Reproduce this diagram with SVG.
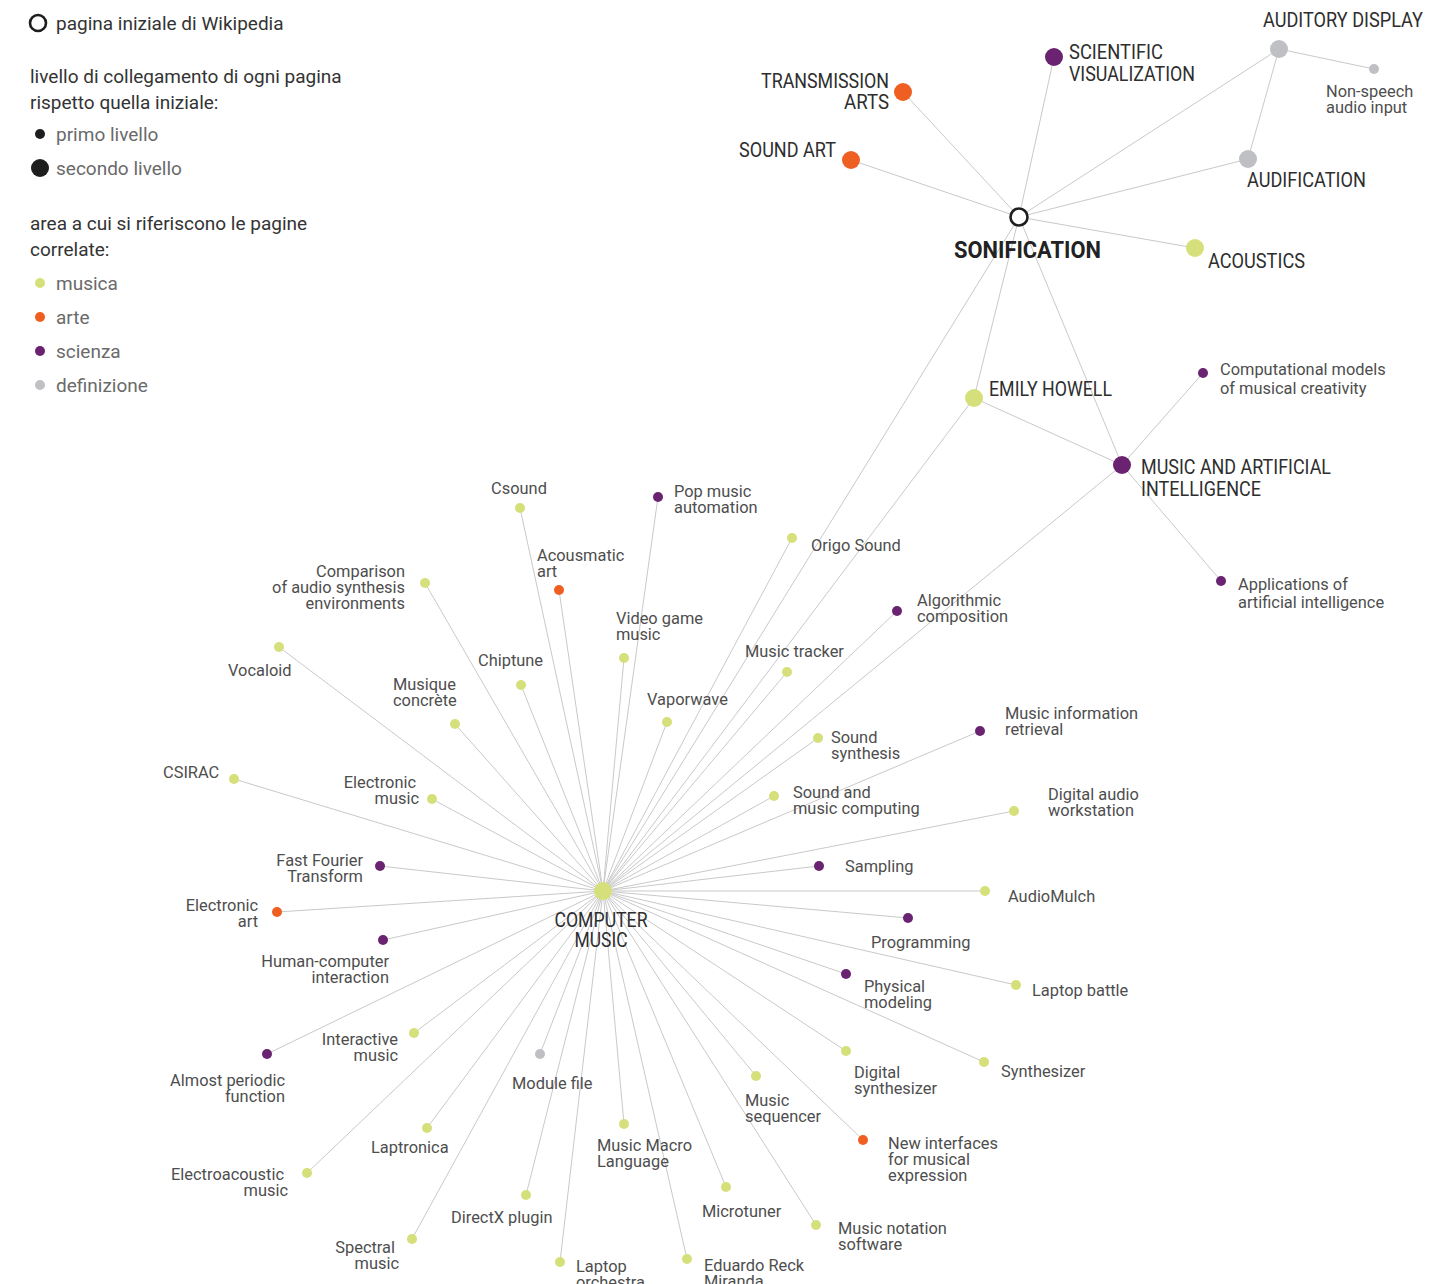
<svg xmlns="http://www.w3.org/2000/svg" width="1452" height="1284" viewBox="0 0 1452 1284">
<style>
  .bg{fill:#ffffff}
  .ln{stroke:#c9c9c9;stroke-width:1;fill:none}
  .m{fill:#d5e07a}
  .a{fill:#ef5f22}
  .s{fill:#6a2370}
  .d{fill:#bfc0c4}
  .k{fill:#1e1e1e}
  .start{fill:#ffffff;stroke:#1e1e1e;stroke-width:2.6}
  .lab{font-family:Roboto,"Liberation Sans",sans-serif;font-size:16.4px;fill:#4e4e4e}
  .cap{font-family:Roboto,"Liberation Sans",sans-serif;font-size:20px;fill:#2e2e2e}
  .main{font-family:Roboto,"Liberation Sans",sans-serif;font-size:23px;font-weight:bold;fill:#222}
  .lg{font-family:Roboto,"Liberation Sans",sans-serif;font-size:19px;fill:#333}
  .lg2{font-family:Roboto,"Liberation Sans",sans-serif;font-size:19px;fill:#6a6a6a}
  .r{text-anchor:end}
</style>
<rect class="bg" width="1452" height="1284"/>

<!-- legend -->
<g id="legend">
  <circle class="start" cx="38" cy="23" r="8"/>
  <text class="lg" x="56" y="30">pagina iniziale di Wikipedia</text>
  <text class="lg" x="30" y="83">livello di collegamento di ogni pagina</text>
  <text class="lg" x="30" y="109">rispetto quella iniziale:</text>
  <circle class="k" cx="40" cy="134" r="5"/>
  <text class="lg2" x="56" y="141">primo livello</text>
  <circle class="k" cx="40" cy="168" r="9"/>
  <text class="lg2" x="56" y="175">secondo livello</text>
  <text class="lg" x="30" y="230">area a cui si riferiscono le pagine</text>
  <text class="lg" x="30" y="256">correlate:</text>
  <circle class="m" cx="40" cy="283" r="5"/>
  <text class="lg2" x="56" y="290">musica</text>
  <circle class="a" cx="40" cy="317" r="5"/>
  <text class="lg2" x="56" y="324">arte</text>
  <circle class="s" cx="40" cy="351" r="5"/>
  <text class="lg2" x="56" y="358">scienza</text>
  <circle class="d" cx="40" cy="385" r="5"/>
  <text class="lg2" x="56" y="392">definizione</text>
</g>

<!-- connectors -->
<g id="connectors" class="ln">
  <!-- from SONIFICATION -->
  <line x1="1019" y1="217" x2="851" y2="160"/>
  <line x1="1019" y1="217" x2="903" y2="92"/>
  <line x1="1019" y1="217" x2="1054" y2="57"/>
  <line x1="1019" y1="217" x2="1279" y2="49"/>
  <line x1="1019" y1="217" x2="1248" y2="159"/>
  <line x1="1019" y1="217" x2="1195" y2="248"/>
  <line x1="1019" y1="217" x2="603" y2="891"/>
  <line x1="1019" y1="217" x2="974" y2="398"/>
  <line x1="1019" y1="217" x2="1122" y2="465"/>
  <!-- among first-level pages -->
  <line x1="1279" y1="49" x2="1374" y2="69"/>
  <line x1="1279" y1="49" x2="1248" y2="159"/>
  <line x1="974" y1="398" x2="1122" y2="465"/>
  <line x1="974" y1="398" x2="603" y2="891"/>
  <line x1="1122" y1="465" x2="1203" y2="373"/>
  <line x1="1122" y1="465" x2="1221" y2="581"/>
  <line x1="1122" y1="465" x2="603" y2="891"/>
  <!-- from COMPUTER MUSIC -->
  <g id="cm-links">
    <line x1="603" y1="891" x2="520" y2="508"/>
    <line x1="603" y1="891" x2="658" y2="497"/>
    <line x1="603" y1="891" x2="559" y2="590"/>
    <line x1="603" y1="891" x2="425" y2="583"/>
    <line x1="603" y1="891" x2="624" y2="658"/>
    <line x1="603" y1="891" x2="792" y2="538"/>
    <line x1="603" y1="891" x2="897" y2="611"/>
    <line x1="603" y1="891" x2="279" y2="647"/>
    <line x1="603" y1="891" x2="521" y2="685"/>
    <line x1="603" y1="891" x2="787" y2="672"/>
    <line x1="603" y1="891" x2="455" y2="724"/>
    <line x1="603" y1="891" x2="667" y2="722"/>
    <line x1="603" y1="891" x2="818" y2="738"/>
    <line x1="603" y1="891" x2="980" y2="731"/>
    <line x1="603" y1="891" x2="234" y2="779"/>
    <line x1="603" y1="891" x2="432" y2="799"/>
    <line x1="603" y1="891" x2="774" y2="796"/>
    <line x1="603" y1="891" x2="1014" y2="811"/>
    <line x1="603" y1="891" x2="380" y2="866"/>
    <line x1="603" y1="891" x2="819" y2="866"/>
    <line x1="603" y1="891" x2="985" y2="891"/>
    <line x1="603" y1="891" x2="277" y2="912"/>
    <line x1="603" y1="891" x2="908" y2="918"/>
    <line x1="603" y1="891" x2="383" y2="940"/>
    <line x1="603" y1="891" x2="846" y2="974"/>
    <line x1="603" y1="891" x2="1016" y2="985"/>
    <line x1="603" y1="891" x2="414" y2="1033"/>
    <line x1="603" y1="891" x2="984" y2="1062"/>
    <line x1="603" y1="891" x2="846" y2="1051"/>
    <line x1="603" y1="891" x2="267" y2="1054"/>
    <line x1="603" y1="891" x2="540" y2="1054"/>
    <line x1="603" y1="891" x2="756" y2="1076"/>
    <line x1="603" y1="891" x2="863" y2="1140"/>
    <line x1="603" y1="891" x2="427" y2="1128"/>
    <line x1="603" y1="891" x2="624" y2="1124"/>
    <line x1="603" y1="891" x2="307" y2="1173"/>
    <line x1="603" y1="891" x2="726" y2="1187"/>
    <line x1="603" y1="891" x2="526" y2="1195"/>
    <line x1="603" y1="891" x2="816" y2="1225"/>
    <line x1="603" y1="891" x2="412" y2="1239"/>
    <line x1="603" y1="891" x2="560" y2="1262"/>
    <line x1="603" y1="891" x2="687" y2="1259"/>
  </g>
</g>

<!-- first-level pages -->
<g id="sonification">
  <circle class="start" cx="1019" cy="217" r="8.5"/>
  <text class="main" x="954" y="258" textLength="147" lengthAdjust="spacingAndGlyphs">SONIFICATION</text>
</g>
<g id="sound-art">
  <circle class="a" cx="851" cy="160" r="9"/>
  <text class="cap r" x="836" y="157" textLength="97" lengthAdjust="spacingAndGlyphs">SOUND ART</text>
</g>
<g id="transmission-arts">
  <circle class="a" cx="903" cy="92" r="9"/>
  <text class="cap r" x="889" y="88" textLength="128" lengthAdjust="spacingAndGlyphs">TRANSMISSION</text>
  <text class="cap r" x="889" y="109" textLength="45" lengthAdjust="spacingAndGlyphs">ARTS</text>
</g>
<g id="scientific-visualization">
  <circle class="s" cx="1054" cy="57" r="9"/>
  <text class="cap" x="1069" y="59" textLength="94" lengthAdjust="spacingAndGlyphs">SCIENTIFIC</text>
  <text class="cap" x="1069" y="81" textLength="126" lengthAdjust="spacingAndGlyphs">VISUALIZATION</text>
</g>
<g id="auditory-display">
  <circle class="d" cx="1279" cy="49" r="9"/>
  <text class="cap" x="1263" y="27" textLength="160" lengthAdjust="spacingAndGlyphs">AUDITORY DISPLAY</text>
</g>
<g id="non-speech-audio-input">
  <circle class="d" cx="1374" cy="69" r="5"/>
  <text class="lab" x="1326" y="97">Non-speech</text>
  <text class="lab" x="1326" y="113">audio input</text>
</g>
<g id="audification">
  <circle class="d" cx="1248" cy="159" r="9"/>
  <text class="cap" x="1247" y="187" textLength="119" lengthAdjust="spacingAndGlyphs">AUDIFICATION</text>
</g>
<g id="acoustics">
  <circle class="m" cx="1195" cy="248" r="9"/>
  <text class="cap" x="1208" y="268" textLength="97" lengthAdjust="spacingAndGlyphs">ACOUSTICS</text>
</g>
<g id="emily-howell">
  <circle class="m" cx="974" cy="398" r="9"/>
  <text class="cap" x="989" y="396" textLength="123" lengthAdjust="spacingAndGlyphs">EMILY HOWELL</text>
</g>
<g id="music-and-ai">
  <circle class="s" cx="1122" cy="465" r="9"/>
  <text class="cap" x="1141" y="474" textLength="190" lengthAdjust="spacingAndGlyphs">MUSIC AND ARTIFICIAL</text>
  <text class="cap" x="1141" y="496" textLength="120" lengthAdjust="spacingAndGlyphs">INTELLIGENCE</text>
</g>
<g id="computational-models">
  <circle class="s" cx="1203" cy="373" r="5"/>
  <text class="lab" x="1220" y="375">Computational models</text>
  <text class="lab" x="1220" y="394">of musical creativity</text>
</g>
<g id="applications-of-ai">
  <circle class="s" cx="1221" cy="581" r="5"/>
  <text class="lab" x="1238" y="590">Applications of</text>
  <text class="lab" x="1238" y="608">artificial intelligence</text>
</g>
<g id="computer-music">
  <circle class="m" cx="603" cy="891" r="9"/>
  <text class="cap" x="601" y="927" text-anchor="middle" textLength="93" lengthAdjust="spacingAndGlyphs">COMPUTER</text>
  <text class="cap" x="601" y="947" text-anchor="middle" textLength="53" lengthAdjust="spacingAndGlyphs">MUSIC</text>
</g>

<!-- pages linked from COMPUTER MUSIC -->
<g id="csound"><circle class="m" cx="520" cy="508" r="5"/><text class="lab" x="519" y="494" text-anchor="middle">Csound</text></g>
<g id="pop-music-automation"><circle class="s" cx="658" cy="497" r="5"/><text class="lab" x="674" y="497">Pop music</text><text class="lab" x="674" y="513">automation</text></g>
<g id="acousmatic-art"><circle class="a" cx="559" cy="590" r="5"/><text class="lab" x="537" y="561">Acousmatic</text><text class="lab" x="537" y="577">art</text></g>
<g id="comparison"><circle class="m" cx="425" cy="583" r="5"/><text class="lab r" x="405" y="577">Comparison</text><text class="lab r" x="405" y="593">of audio synthesis</text><text class="lab r" x="405" y="609">environments</text></g>
<g id="video-game-music"><circle class="m" cx="624" cy="658" r="5"/><text class="lab" x="616" y="624">Video game</text><text class="lab" x="616" y="640">music</text></g>
<g id="origo-sound"><circle class="m" cx="792" cy="538" r="5"/><text class="lab" x="811" y="551">Origo Sound</text></g>
<g id="algorithmic-composition"><circle class="s" cx="897" cy="611" r="5"/><text class="lab" x="917" y="606">Algorithmic</text><text class="lab" x="917" y="622">composition</text></g>
<g id="vocaloid"><circle class="m" cx="279" cy="647" r="5"/><text class="lab" x="228" y="676">Vocaloid</text></g>
<g id="chiptune"><circle class="m" cx="521" cy="685" r="5"/><text class="lab" x="478" y="666">Chiptune</text></g>
<g id="music-tracker"><circle class="m" cx="787" cy="672" r="5"/><text class="lab" x="745" y="657">Music tracker</text></g>
<g id="musique-concrete"><circle class="m" cx="455" cy="724" r="5"/><text class="lab" x="393" y="690">Musique</text><text class="lab" x="393" y="706">concrète</text></g>
<g id="vaporwave"><circle class="m" cx="667" cy="722" r="5"/><text class="lab" x="647" y="705">Vaporwave</text></g>
<g id="sound-synthesis"><circle class="m" cx="818" cy="738" r="5"/><text class="lab" x="831" y="743">Sound</text><text class="lab" x="831" y="759">synthesis</text></g>
<g id="music-information-retrieval"><circle class="s" cx="980" cy="731" r="5"/><text class="lab" x="1005" y="719">Music information</text><text class="lab" x="1005" y="735">retrieval</text></g>
<g id="csirac"><circle class="m" cx="234" cy="779" r="5"/><text class="lab" x="163" y="778">CSIRAC</text></g>
<g id="electronic-music"><circle class="m" cx="432" cy="799" r="5"/><text class="lab r" x="416" y="788">Electronic</text><text class="lab r" x="419" y="804">music</text></g>
<g id="sound-and-music-computing"><circle class="m" cx="774" cy="796" r="5"/><text class="lab" x="793" y="798">Sound and</text><text class="lab" x="793" y="814">music computing</text></g>
<g id="digital-audio-workstation"><circle class="m" cx="1014" cy="811" r="5"/><text class="lab" x="1048" y="800">Digital audio</text><text class="lab" x="1048" y="816">workstation</text></g>
<g id="fast-fourier-transform"><circle class="s" cx="380" cy="866" r="5"/><text class="lab r" x="363" y="866">Fast Fourier</text><text class="lab r" x="363" y="882">Transform</text></g>
<g id="sampling"><circle class="s" cx="819" cy="866" r="5"/><text class="lab" x="845" y="872">Sampling</text></g>
<g id="audiomulch"><circle class="m" cx="985" cy="891" r="5"/><text class="lab" x="1008" y="902">AudioMulch</text></g>
<g id="electronic-art"><circle class="a" cx="277" cy="912" r="5"/><text class="lab r" x="258" y="911">Electronic</text><text class="lab r" x="258" y="927">art</text></g>
<g id="programming"><circle class="s" cx="908" cy="918" r="5"/><text class="lab" x="871" y="948">Programming</text></g>
<g id="human-computer-interaction"><circle class="s" cx="383" cy="940" r="5"/><text class="lab r" x="389" y="967">Human-computer</text><text class="lab r" x="389" y="983">interaction</text></g>
<g id="physical-modeling"><circle class="s" cx="846" cy="974" r="5"/><text class="lab" x="864" y="992">Physical</text><text class="lab" x="864" y="1008">modeling</text></g>
<g id="laptop-battle"><circle class="m" cx="1016" cy="985" r="5"/><text class="lab" x="1032" y="996">Laptop battle</text></g>
<g id="interactive-music"><circle class="m" cx="414" cy="1033" r="5"/><text class="lab r" x="398" y="1045">Interactive</text><text class="lab r" x="398" y="1061">music</text></g>
<g id="synthesizer"><circle class="m" cx="984" cy="1062" r="5"/><text class="lab" x="1001" y="1077">Synthesizer</text></g>
<g id="digital-synthesizer"><circle class="m" cx="846" cy="1051" r="5"/><text class="lab" x="854" y="1078">Digital</text><text class="lab" x="854" y="1094">synthesizer</text></g>
<g id="almost-periodic-function"><circle class="s" cx="267" cy="1054" r="5"/><text class="lab r" x="285" y="1086">Almost periodic</text><text class="lab r" x="285" y="1102">function</text></g>
<g id="module-file"><circle class="d" cx="540" cy="1054" r="5"/><text class="lab" x="512" y="1089">Module file</text></g>
<g id="music-sequencer"><circle class="m" cx="756" cy="1076" r="5"/><text class="lab" x="745" y="1106">Music</text><text class="lab" x="745" y="1122">sequencer</text></g>
<g id="new-interfaces"><circle class="a" cx="863" cy="1140" r="5"/><text class="lab" x="888" y="1149">New interfaces</text><text class="lab" x="888" y="1165">for musical</text><text class="lab" x="888" y="1181">expression</text></g>
<g id="laptronica"><circle class="m" cx="427" cy="1128" r="5"/><text class="lab" x="371" y="1153">Laptronica</text></g>
<g id="music-macro-language"><circle class="m" cx="624" cy="1124" r="5"/><text class="lab" x="597" y="1151">Music Macro</text><text class="lab" x="597" y="1167">Language</text></g>
<g id="electroacoustic-music"><circle class="m" cx="307" cy="1173" r="5"/><text class="lab r" x="284" y="1180">Electroacoustic</text><text class="lab r" x="288" y="1196">music</text></g>
<g id="microtuner"><circle class="m" cx="726" cy="1187" r="5"/><text class="lab" x="702" y="1217">Microtuner</text></g>
<g id="directx-plugin"><circle class="m" cx="526" cy="1195" r="5"/><text class="lab" x="451" y="1223">DirectX plugin</text></g>
<g id="music-notation-software"><circle class="m" cx="816" cy="1225" r="5"/><text class="lab" x="838" y="1234">Music notation</text><text class="lab" x="838" y="1250">software</text></g>
<g id="spectral-music"><circle class="m" cx="412" cy="1239" r="5"/><text class="lab r" x="395" y="1253">Spectral</text><text class="lab r" x="399" y="1269">music</text></g>
<g id="laptop-orchestra"><circle class="m" cx="560" cy="1262" r="5"/><text class="lab" x="576" y="1272">Laptop</text><text class="lab" x="576" y="1288">orchestra</text></g>
<g id="eduardo-reck-miranda"><circle class="m" cx="687" cy="1259" r="5"/><text class="lab" x="704" y="1271">Eduardo Reck</text><text class="lab" x="704" y="1287">Miranda</text></g>
</svg>
